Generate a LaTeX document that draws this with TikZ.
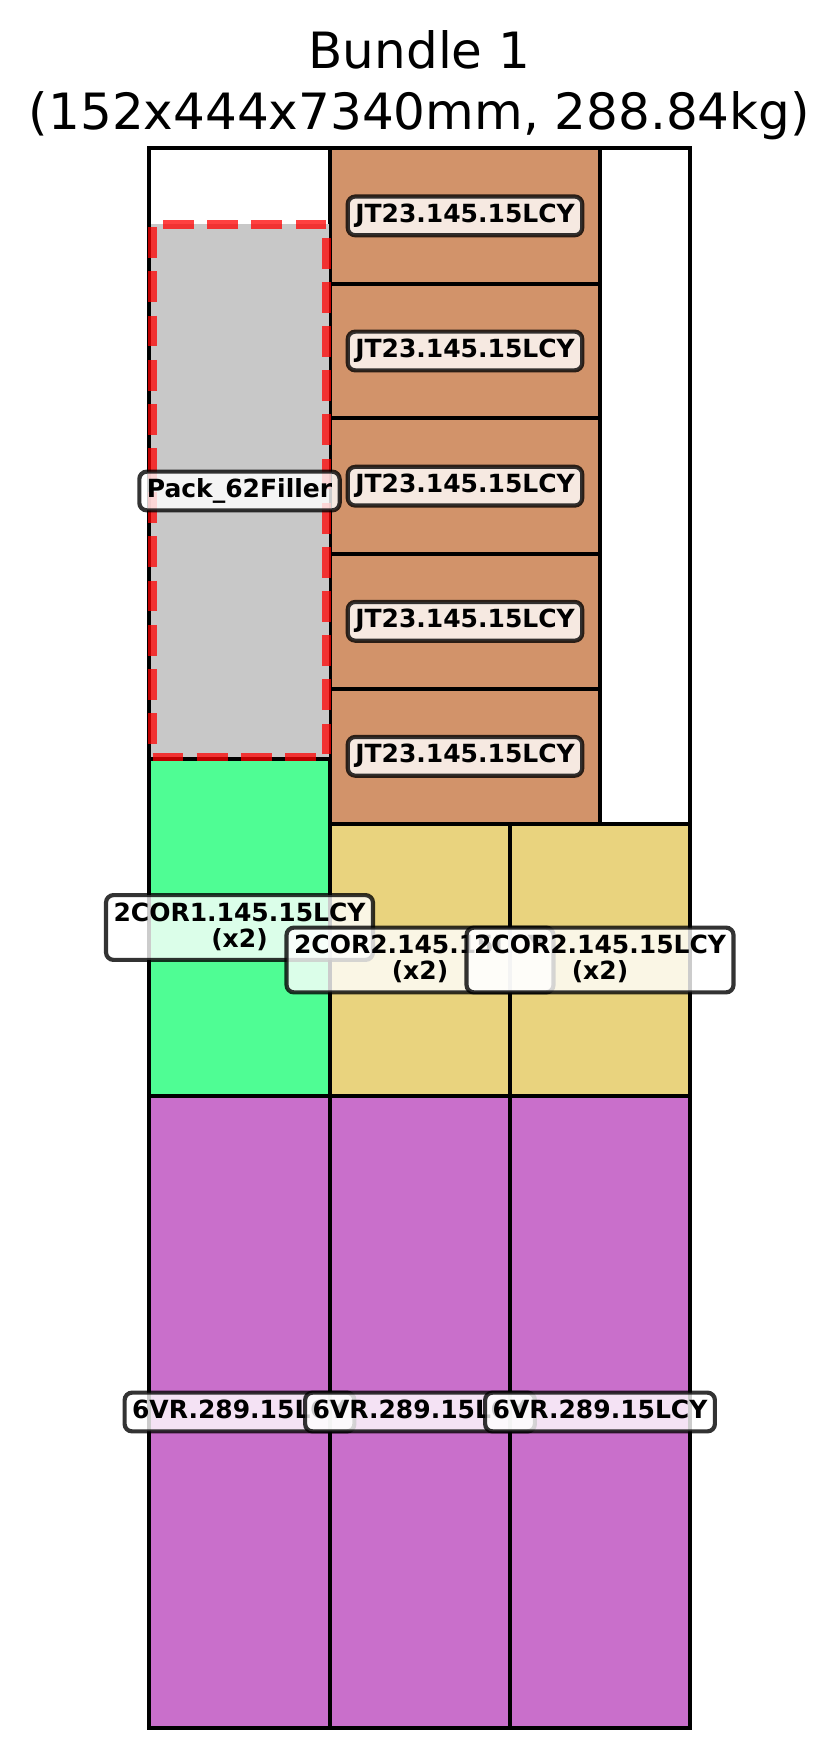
\documentclass[tikz,border=0pt]{standalone}
\usepackage{fontspec}
\setmainfont{DejaVu Sans}
\newcommand\lblstrut{\rule[-1.25pt]{0pt}{5.7pt}}
\newcommand\lline[1]{\smash{#1}\lblstrut}
\definecolor{brownc}{RGB}{210,147,106}
\definecolor{grayc}{RGB}{200,200,200}
\definecolor{greenc}{RGB}{79,253,148}
\definecolor{yellowc}{RGB}{233,211,126}
\definecolor{purplec}{RGB}{201,111,203}
\tikzset{
  box/.style={draw=black, line width=1pt},
  lbl/.style={draw=black, draw opacity=0.8, fill=white, fill opacity=0.8, text opacity=1,
    rounded corners=1.8pt, inner sep=1.8pt, line width=1pt, align=center,
    font=\fontsize{6}{6.25}\selectfont\bfseries},
  ttl/.style={anchor=base, inner sep=0pt, font=\fontsize{12}{14.8}\selectfont},
  filler/.style={draw=red, draw opacity=0.75, line width=2pt, dash pattern=on 7.4pt off 3.2pt}
}
\begin{document}
\begin{tikzpicture}[x=0.24pt,y=-0.24pt]
\fill[white] (0,0) rectangle (840,1759);
\useasboundingbox (0,0) rectangle (840,1759);
% title
\node[ttl] (t1) at (419.5,68.3) {Bundle 1};
\node[ttl] (t2) at (419.5,130) {(152x444x7340mm, 288.84kg)};
% brown JT boxes
\draw[box, fill=brownc] (330,148) rectangle (600,283.7);
\draw[box, fill=brownc] (330,283.7) rectangle (600,418.3);
\draw[box, fill=brownc] (330,418.3) rectangle (600,554);
\draw[box, fill=brownc] (330,554) rectangle (600,688.6);
\draw[box, fill=brownc] (330,688.6) rectangle (600,824);
% green
\draw[box, fill=greenc] (149,759) rectangle (330,1096);
% yellow
\draw[box, fill=yellowc] (330,824) rectangle (510,1096);
\draw[box, fill=yellowc] (510,824) rectangle (690,1096);
% purple
\draw[box, fill=purplec] (149,1096) rectangle (330,1728);
\draw[box, fill=purplec] (330,1096) rectangle (510,1728);
\draw[box, fill=purplec] (510,1096) rectangle (690,1728);
% filler
\fill[grayc] (151,224.5) rectangle (329,757);
% outer box
\draw[box] (149,148) rectangle (690,1728);
\draw[filler] (152.5,757) -- (326.5,757) -- (326.5,224.5) -- (152.5,224.5) -- cycle;
% labels
\node[lbl] (lf) at (239.5,491) {\lline{Pack\_62Filler}};
\node[lbl] (j1) at (465,215.9) {\lline{JT23.145.15LCY}};
\node[lbl] (j2) at (465,351) {\lline{JT23.145.15LCY}};
\node[lbl] (j3) at (465,486.2) {\lline{JT23.145.15LCY}};
\node[lbl] (j4) at (465,621.3) {\lline{JT23.145.15LCY}};
\node[lbl] (j5) at (465,756.3) {\lline{JT23.145.15LCY}};
\node[lbl] (c1) at (239.5,927.5) {\lline{2COR1.145.15LCY}\\\lline{(x2)}};
\node[lbl] (c2) at (420,960) {\lline{2COR2.145.15LCY}\\\lline{(x2)}};
\node[lbl] (c3) at (600,960) {\lline{2COR2.145.15LCY}\\\lline{(x2)}};
\node[lbl] (v1) at (239.5,1412) {\lline{6VR.289.15LCY}};
\node[lbl] (v2) at (420,1412) {\lline{6VR.289.15LCY}};
\node[lbl] (v3) at (600,1412) {\lline{6VR.289.15LCY}};
\end{tikzpicture}
\end{document}
